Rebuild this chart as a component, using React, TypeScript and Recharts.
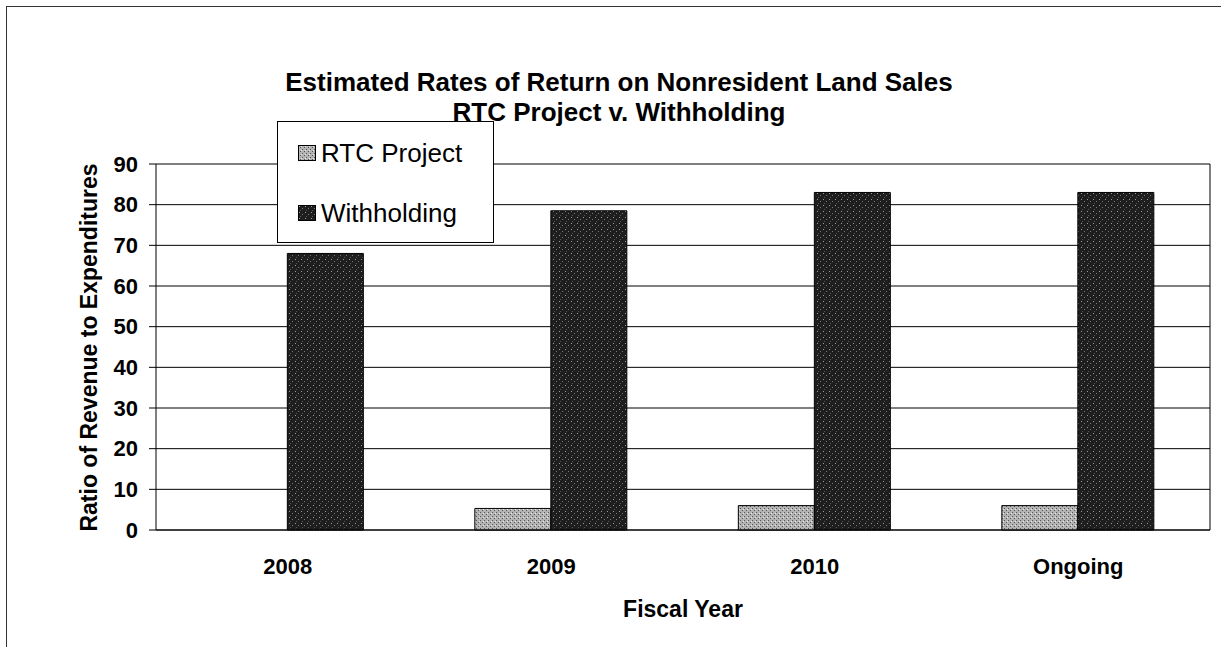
import React from 'react';
import { BarChart, Bar, XAxis, YAxis, CartesianGrid } from 'recharts';

const categories = ['2008', '2009', '2010', 'Ongoing'];
const rtcProject = [0, 5.3, 6, 6];
const withholding = [68, 78.5, 83, 83];
const yTicks = [0, 10, 20, 30, 40, 50, 60, 70, 80, 90];

const data = categories.map((c, i) => ({ year: c, rtc: rtcProject[i], with: withholding[i] }));

const FONT = '"Liberation Sans", Arial, sans-serif';

const Patterns = () => (
  <svg width={0} height={0} style={{ position: 'absolute' }}>
    <defs>
      <pattern id="pWith" width="6" height="6" patternUnits="userSpaceOnUse">
        <rect width="6" height="6" fill="#1e1e1e" />
        <rect x="1" y="1" width="1" height="1" fill="#9a9a9a" />
        <rect x="4" y="3" width="1" height="1" fill="#777" />
        <rect x="2" y="5" width="1" height="1" fill="#555" />
      </pattern>
      <pattern id="pRTC" width="4" height="4" patternUnits="userSpaceOnUse">
        <rect width="4" height="4" fill="#b4b4b4" />
        <rect x="0" y="0" width="1" height="1" fill="#555" />
        <rect x="2" y="2" width="1" height="1" fill="#555" />
        <rect x="3" y="1" width="1" height="1" fill="#e8e8e8" />
      </pattern>
    </defs>
  </svg>
);

export default function App() {
  return (
    <div style={{ position: 'absolute', left: 0, top: 0, width: 1221, height: 647, background: '#fff', fontFamily: FONT }}>
      <Patterns />
      <div style={{ position: 'absolute', left: 6, top: 6, width: 1215, height: 641, borderLeft: '1px solid #333', borderTop: '1px solid #333' }} />
      <div style={{ position: 'absolute', left: 0, width: 1238, top: 67, textAlign: 'center', fontWeight: 'bold', fontSize: 26, lineHeight: '30px', color: '#000' }}>
        <div>Estimated Rates of Return on Nonresident Land Sales</div>
        <div>RTC Project v. Withholding</div>
      </div>
      <BarChart
        width={1221}
        height={647}
        data={data}
        margin={{ top: 164, right: 11, bottom: 17, left: 96 }}
        barCategoryGap="21%"
        barGap={0}
      >
        <CartesianGrid
          stroke="#000"
          strokeWidth={1}
          vertical={true}
          verticalCoordinatesGenerator={({ offset }: any) => [offset.left + offset.width]}
        />
        <XAxis
          dataKey="year"
          height={100}
          tickLine={false}
          tickMargin={22}
          axisLine={{ stroke: '#000' }}
          tick={{ fill: '#000', fontSize: 22, fontWeight: 'bold', fontFamily: FONT }}
        />
        <YAxis
          width={60}
          domain={[0, 90]}
          ticks={yTicks}
          interval={0}
          tickSize={7}
          tickMargin={11}
          tickLine={{ stroke: '#000' }}
          axisLine={{ stroke: '#000' }}
          tick={{ fill: '#000', fontSize: 22, fontWeight: 'bold', fontFamily: FONT }}
        />
        <Bar dataKey="rtc" name="RTC Project" fill="url(#pRTC)" stroke="#000" strokeWidth={1} isAnimationActive={false} />
        <Bar dataKey="with" name="Withholding" fill="url(#pWith)" stroke="#000" strokeWidth={1} isAnimationActive={false} />
      </BarChart>
      <div style={{ position: 'absolute', left: 0, top: 0, width: 178, height: 694, display: 'flex', alignItems: 'center', justifyContent: 'center', pointerEvents: 'none' }}>
        <div style={{ transform: 'rotate(-90deg)', whiteSpace: 'nowrap', fontWeight: 'bold', fontSize: 23, color: '#000' }}>
          Ratio of Revenue to Expenditures
        </div>
      </div>
      <div style={{ position: 'absolute', left: 156, width: 1054, top: 596, textAlign: 'center', fontWeight: 'bold', fontSize: 23, color: '#000' }}>
        Fiscal Year
      </div>
      <div style={{ position: 'absolute', left: 277, top: 121, width: 217, height: 122, border: '1px solid #000', background: '#fff', boxSizing: 'border-box', fontSize: 26, color: '#000' }}>
        <div style={{ position: 'absolute', left: 20, top: 16, height: 30, display: 'flex', alignItems: 'center' }}>
          <svg width={18} height={16} style={{ marginRight: 5 }}><rect x={0.5} y={0.5} width={17} height={15} fill="url(#pRTC)" stroke="#000" /></svg>
          <span>RTC Project</span>
        </div>
        <div style={{ position: 'absolute', left: 20, top: 76, height: 30, display: 'flex', alignItems: 'center' }}>
          <svg width={18} height={16} style={{ marginRight: 5 }}><rect x={0.5} y={0.5} width={17} height={15} fill="url(#pWith)" stroke="#000" /></svg>
          <span>Withholding</span>
        </div>
      </div>
    </div>
  );
}
